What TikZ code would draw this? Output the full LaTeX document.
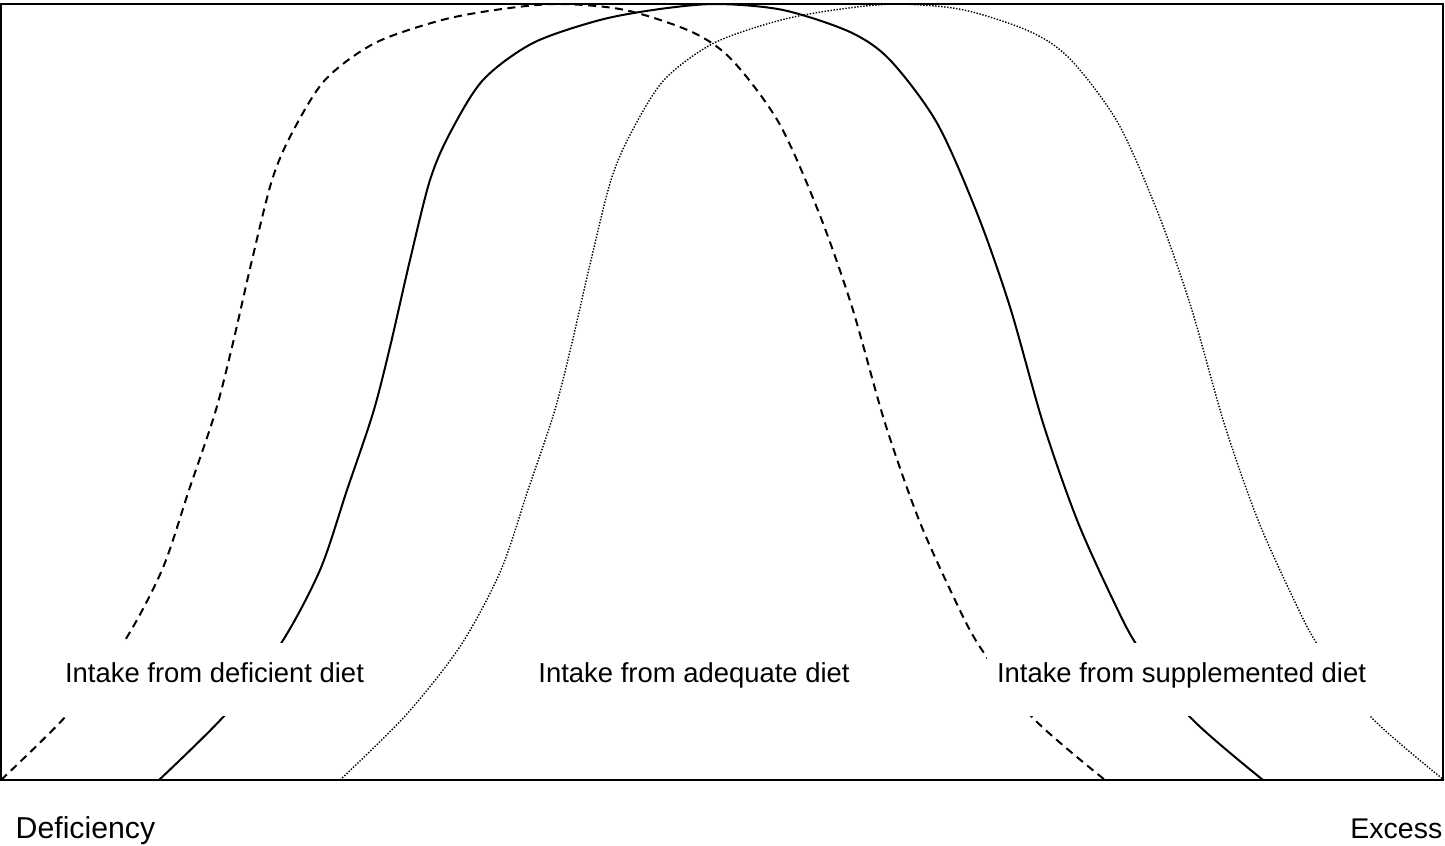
\documentclass[tikz,border=0pt]{standalone}
\usepackage{fontspec}
\setmainfont{Liberation Sans}
\tikzset{>=latex}

\begin{document}
\begin{tikzpicture}[x=0.01cm,y=-0.01cm,
		solidcurve/.style={line width=0.02cm},
		dashcurve/.style={line width=0.02cm,dash pattern=on 0.08cm off 0.055cm},
		dotcurve/.style={line width=0.014cm,dash pattern=on 0.014cm off 0.016cm},
		intake/.style={fill=white,anchor=base,inner xsep=0.1cm,inner ysep=0pt,text height=0.39cm,text depth=0.34cm,font=\fontsize{7.8}{9}\selectfont},
		scale/.style={anchor=base #1,inner sep=0pt,font=\fontsize{8.1}{9}\selectfont}]
	\useasboundingbox (0,0) rectangle (1445,845);
%-----the same intake curve, shifted for each diet-----
	\foreach \dx/\sty in {-158/dashcurve,0/solidcurve,181/dotcurve}
		{
			\draw[\sty,xshift=\dx*0.01cm] plot[smooth] coordinates {(159,780) (225,715) (280,645) (320,570) (347,490) (373,413) (390,347) (410,260) (430,180) (450,133) (483,80) (533,43) (600,20) (660,9) (717,4) (783,10) (850,32) (890,60) (937,123) (977,213) (1010,307) (1043,423) (1077,520) (1113,600) (1138,647) (1190,717) (1263,780)};
		}
	\draw[line width=0.02cm] (1,3.5) rectangle (1443,780);
%-----labels over the curves-----
	\node[intake] (deficient) at (214.5,682) {Intake from deficient diet};
	\node[intake] (adequate) at (694,682) {Intake from adequate diet};
	\node[intake] (supplemented) at (1181.5,682) {Intake from supplemented diet};
	\node[scale=west,font=\fontsize{8.6}{9}\selectfont] (deficiency) at (15,838) {Deficiency};
	\node[scale=east] (excess) at (1443,838) {Excess};
\end{tikzpicture}
\end{document}
